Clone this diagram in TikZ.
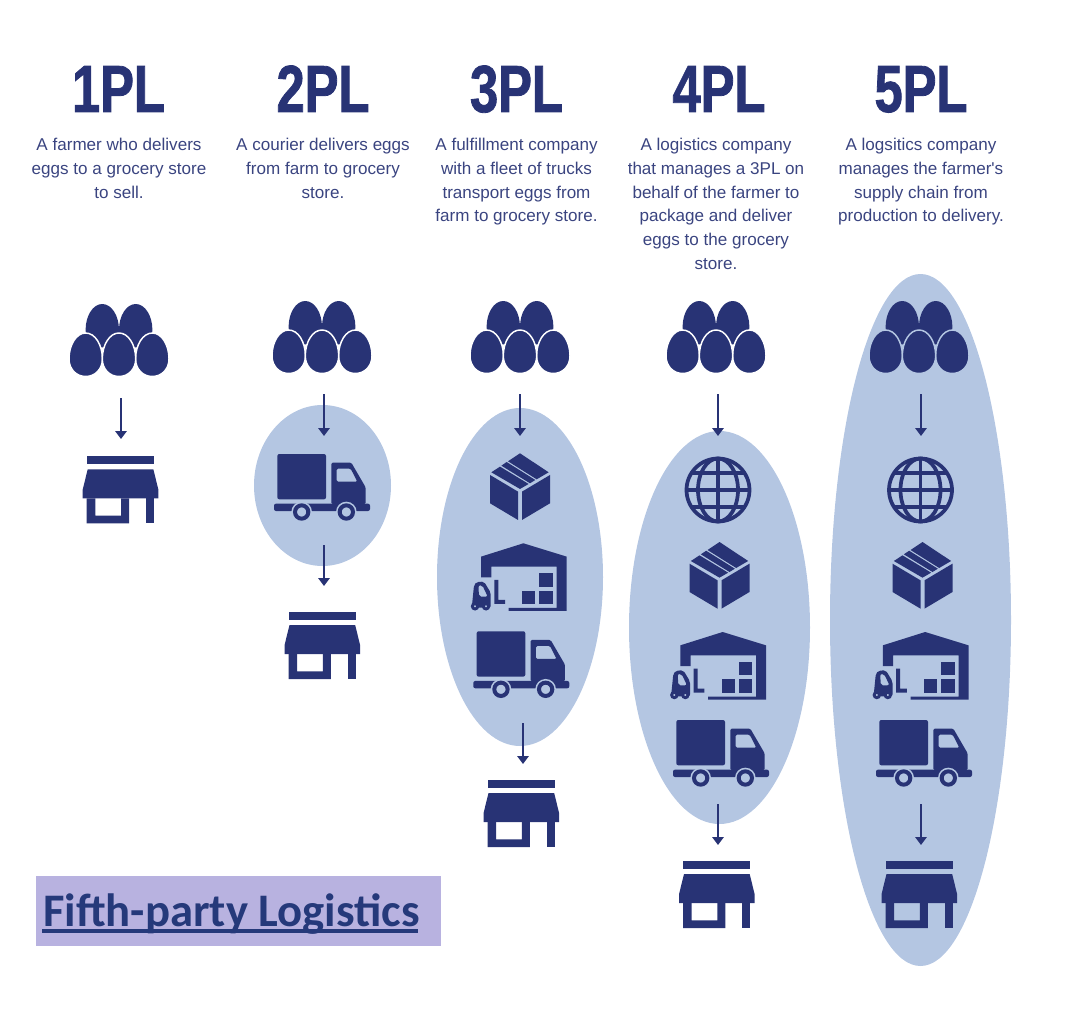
\documentclass[tikz,border=0pt]{standalone}
\usepackage{fontspec}
\usetikzlibrary{arrows.meta,shapes.geometric}
\setmainfont{Liberation Sans}
\newfontfamily\capfont[Ligatures=Common]{Liberation Sans}
\newfontfamily\titlefont[FakeStretch=0.76,FakeBold=1.2]{Liberation Sans Bold}
\newfontfamily\tagfont{Carlito Bold}
\definecolor{navy}{HTML}{283375}
\definecolor{inknavy}{HTML}{3A4480}
\definecolor{blob}{HTML}{B4C6E2}
\definecolor{tagbg}{HTML}{B8B2E0}
\definecolor{tagink}{HTML}{25397A}
\tikzset{
  x=0.75pt,y=-0.75pt,
  flow/.style={navy,line width=2.2pt,-{Triangle[width=8.5pt,length=6pt]}},
  blobshape/.style={ellipse,fill=blob,inner sep=0pt,minimum width=#1},
  heading/.style={font=\titlefont\fontsize{50}{50}\selectfont,text=navy,anchor=base,inner sep=0pt},
  caption/.style={font=\capfont\fontsize{12.8}{17.8}\selectfont,text=inknavy,align=center,anchor=north,inner sep=0pt},
  pics/eggs/.style={code={
    \def\eggpath##1##2{(##1,##2) .. controls (##1+9.5,##2) and (##1+16.7,##2+12) .. (##1+16.7,##2+26) .. controls (##1+16.7,##2+36) and (##1+9.5,##2+43.5) .. (##1,##2+43.5) .. controls (##1-9.5,##2+43.5) and (##1-16.7,##2+36) .. (##1-16.7,##2+26) .. controls (##1-16.7,##2+12) and (##1-9.5,##2) .. (##1,##2) -- cycle}
    \fill[navy] \eggpath{-16.7}{0};
    \fill[navy] \eggpath{16.7}{0};
    \filldraw[fill=navy,draw=#1,line width=1.1pt] \eggpath{-33.3}{29};
    \filldraw[fill=navy,draw=#1,line width=1.1pt] \eggpath{33.3}{29};
    \filldraw[fill=navy,draw=#1,line width=1.1pt] \eggpath{0}{29};
  }},
  pics/store/.style={code={
    \begin{scope}[scale=1/3]
      \fill[navy] (0,0) rectangle (202,24);
      \fill[navy] (3,39) -- (200,39) -- (215,100) -- (215,126) -- (-12,126) -- (-12,100) -- cycle;
      \fill[navy] (0,126) -- (26,126) -- (26,178) -- (103,178) -- (103,126) -- (127,126) -- (127,201) -- (0,201) -- cycle;
      \fill[navy] (177,126) rectangle (202,201);
    \end{scope}
  }},
  pics/truck/.style={code={
    \begin{scope}[scale=1/3]
      \fill[navy,rounded corners=1.5pt] (10,0) rectangle (156,136);
      \fill[navy,even odd rule,rounded corners=1pt] (172,26) -- (232,26) -- (275,100) -- (275,150) -- (172,150) -- cycle
        (188,44) -- (230,44) -- (250,83) -- (188,83) -- cycle;
      \fill[navy,rounded corners=1.5pt] (0,149) rectangle (288,171);
      \fill[#1] (83,174) circle (31);
      \fill[#1] (217,174) circle (31);
      \filldraw[fill=#1,draw=navy,line width=3pt] (83,174) circle (20);
      \filldraw[fill=#1,draw=navy,line width=3pt] (217,174) circle (20);
    \end{scope}
  }},
  pics/parcel/.style={code={
    \begin{scope}[scale=1/3,shift={(-120,-40)}]
      \fill[navy] (120,105) -- (204,155) -- (204,240) -- (120,190) -- cycle;
      \fill[navy] (300,105) -- (216,155) -- (216,240) -- (300,190) -- cycle;
      \fill[navy] (210,40) -- (296,97) -- (260,118) -- (174,64) -- cycle;
      \fill[navy] (170,66.2) -- (256,120) -- (240,130) -- (154,77) -- cycle;
      \fill[navy] (150,80) -- (236,132) -- (210,147) -- (124,97) -- cycle;
    \end{scope}
  }},
  pics/depot/.style={code={
    \begin{scope}[scale=1/3,shift={(-65,-310)}]
      \fill[navy] (93,350) -- (220,310) -- (350,350) -- (350,513) -- (176,513) -- (176,504) -- (320,504) -- (320,380) -- (124,380) -- (124,412) -- (93,412) -- cycle;
      \fill[navy] (268,400) rectangle (308,440);
      \fill[navy] (217,452) rectangle (256,492);
      \fill[navy] (268,452) rectangle (308,492);
      \fill[navy] (133,420) -- (145,420) -- (145,480) -- (165,480) -- (165,492) -- (133,492) -- cycle;
      \fill[navy,even odd rule,rounded corners=1.5pt] (66,495) -- (72,435) -- (80,426) -- (102,425) -- (122,458) -- (122,503) -- (68,503) -- cycle
        (85,436) -- (97,436) -- (113,470) -- (87,470) -- cycle;
      \filldraw[fill=#1,draw=navy,line width=2.2pt] (75,499) circle (8);
      \filldraw[fill=#1,draw=navy,line width=2.2pt] (108,499) circle (8);
    \end{scope}
  }},
  pics/globe/.style={code={
    \draw[navy,line width=2.8pt] (0,0) circle (31.5);
    \draw[navy,line width=2.8pt] (0,0) ellipse (20 and 31.5);
    \draw[navy,line width=2.8pt] (0,-31.5) -- (0,31.5);
    \draw[navy,line width=2.8pt] (-31.5,0) -- (31.5,0);
    \draw[navy,line width=2.8pt] (-26,-16.7) -- (26,-16.7);
    \draw[navy,line width=2.8pt] (-26,16.7) -- (26,16.7);
  }}
}
\begin{document}
\begin{tikzpicture}
\useasboundingbox (0,0) rectangle (1065,1024);
% ovals
\node[blobshape=137*0.75pt,minimum height=161*0.75pt] (oval2) at (322.5,485.5) {};
\node[blobshape=166*0.75pt,minimum height=338*0.75pt] (oval3) at (520,577) {};
\node[blobshape=181*0.75pt,minimum height=393*0.75pt] (oval4) at (719.5,627.5) {};
\node[blobshape=181*0.75pt,minimum height=692*0.75pt] (oval5) at (920.5,620) {};
% headings
\node[heading] (h1) at (118.5,112) {1PL};
\node[heading] (h2) at (323,112) {2PL};
\node[heading] (h3) at (516.5,112) {3PL};
\node[heading] (h4) at (719,112) {4PL};
\node[heading] (h5) at (921,112) {5PL};
% captions
\node[caption] (c1) at (119,138) {A farmer who delivers\\eggs to a grocery store\\to sell.};
\node[caption] (c2) at (323,138) {A courier delivers eggs\\from farm to grocery\\store.};
\node[caption] (c3) at (516.5,138) {A fulfillment company\\with a fleet of trucks\\transport eggs from\\farm to grocery store.};
\node[caption] (c4) at (716,138) {A logistics company\\that manages a 3PL on\\behalf of the farmer to\\package and deliver\\eggs to the grocery\\store.};
\node[caption] (c5) at (921,138) {A logsitics company\\manages the farmer's\\supply chain from\\production to delivery.};
% icons
\pic at (119,304) {eggs=white};
\pic at (322,301) {eggs=white};
\pic at (520,301) {eggs=white};
\pic at (716,301) {eggs=white};
\pic at (919,301) {eggs=blob};
\pic at (86.7,456.3) {store};
\pic at (288.5,612) {store};
\pic at (487.5,780) {store};
\pic at (683,861) {store};
\pic at (885.5,861) {store};
\pic at (274,454) {truck=blob};
\pic at (473.3,631.3) {truck=blob};
\pic at (673,720) {truck=blob};
\pic at (876,720) {truck=blob};
\pic at (490,453.3) {parcel};
\pic at (689.5,542) {parcel};
\pic at (892.5,542) {parcel};
\pic at (471.7,543.3) {depot=blob};
\pic at (671,632) {depot=blob};
\pic at (873.5,632) {depot=blob};
\pic at (718,490) {globe};
\pic at (920.5,490) {globe};
% arrows
\coordinate (a1s) at (121,398); \coordinate (a1e) at (121,439);
\coordinate (a2s) at (324,394); \coordinate (a2e) at (324,436);
\coordinate (a3s) at (324,545); \coordinate (a3e) at (324,586);
\coordinate (a4s) at (520,394); \coordinate (a4e) at (520,436);
\coordinate (a5s) at (523,723); \coordinate (a5e) at (523,764);
\coordinate (a6s) at (718,394); \coordinate (a6e) at (718,436);
\coordinate (a7s) at (718,804); \coordinate (a7e) at (718,845);
\coordinate (a8s) at (921,394); \coordinate (a8e) at (921,436);
\coordinate (a9s) at (921,804); \coordinate (a9e) at (921,845);
\foreach \i in {1,...,9} \draw[flow] (a\i s) -- (a\i e);
% label
\node[fill=tagbg,inner sep=0pt,minimum width=405*0.75pt,minimum height=70*0.75pt] (tagbox) at (238.5,911) {};
\node[font=\tagfont\fontsize{35}{35}\selectfont,text=tagink,anchor=base west,inner sep=0pt] (tag) at (43,926) {Fifth-party Logistics};
\coordinate (ulL) at (42,931); \coordinate (ulR) at (418,931);
\draw[tagink,line width=2.8pt] (ulL) -- (ulR);
\end{tikzpicture}
\end{document}
